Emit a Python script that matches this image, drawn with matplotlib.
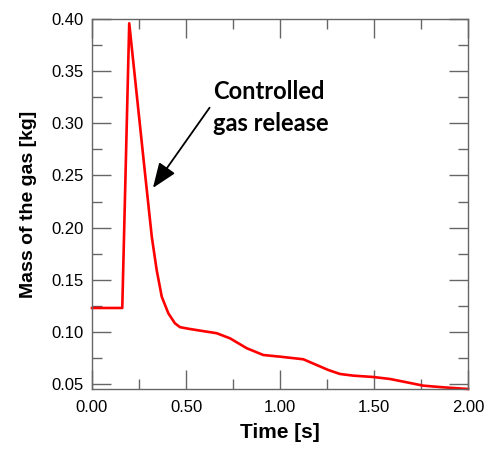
import matplotlib

matplotlib.use("Agg")
import matplotlib.pyplot as plt
from matplotlib.ticker import MultipleLocator

# values
time_s = [0.0, 0.161, 0.198, 0.282, 0.299, 0.318, 0.344, 0.371, 0.406, 0.441,
          0.468, 0.512, 0.574, 0.663, 0.734, 0.823, 0.911, 1.0, 1.124, 1.195,
          1.257, 1.319, 1.39, 1.496, 1.585, 1.674, 1.762, 1.869, 2.0]
mass_kg = [0.1229, 0.1229, 0.3959, 0.252, 0.2233, 0.1912, 0.1593, 0.1337, 0.1178, 0.1082,
           0.1045, 0.1030, 0.1012, 0.0987, 0.0938, 0.0843, 0.0778, 0.0762, 0.0737, 0.0682,
           0.0634, 0.0596, 0.058, 0.0567, 0.0548, 0.0516, 0.0484, 0.0468, 0.0452]

LINE_COLOR = "#ff0000"
AXIS_GRAY = "#666666"

plt.rcParams["font.family"] = ["Liberation Sans", "DejaVu Sans"]

fig = plt.figure(figsize=(4.86, 4.53), dpi=100)
ax = fig.add_axes([0.1893, 0.1413, 0.7737, 0.8167])

ax.plot(time_s, mass_kg, color=LINE_COLOR, linewidth=1.9,
        solid_joinstyle="round", clip_on=False)

ax.set_xlim(0.0, 2.0)
ax.set_ylim(0.0452, 0.40)
ax.xaxis.set_major_locator(MultipleLocator(0.5))
ax.xaxis.set_minor_locator(MultipleLocator(0.25))
ax.yaxis.set_major_locator(MultipleLocator(0.05))
ax.yaxis.set_minor_locator(MultipleLocator(0.025))
ax.xaxis.set_major_formatter(lambda v, _: f"{v:.2f}")
ax.yaxis.set_major_formatter(lambda v, _: f"{v:.2f}")

ax.tick_params(which="both", direction="in", top=True, right=True, color=AXIS_GRAY, width=1)
ax.tick_params(which="major", length=14, labelsize=12, pad=8)
ax.tick_params(which="minor", length=7)
ax.tick_params(axis="y", which="major", pad=6)
for s in ax.spines.values():
    s.set_color(AXIS_GRAY)
    s.set_linewidth(1)

ax.set_xlabel("Time [s]", fontsize=15, fontweight="bold", labelpad=6)
ax.set_ylabel("Mass of the gas [kg]", fontsize=14, fontweight="bold", labelpad=10)

ax.annotate("Controlled\ngas release", xy=(0.324, 0.238), xytext=(0.644, 0.315),
            fontsize=17, fontweight="bold", family=["Lato", "DejaVu Sans"],
            va="center", ha="left", linespacing=1.5,
            arrowprops=dict(arrowstyle="-|>,head_length=0.9,head_width=0.35",
                            color="black", lw=1.3, shrinkA=0, shrinkB=0,
                            relpos=(-0.03, 0.5)))

fig.savefig("out.png", dpi=100)
